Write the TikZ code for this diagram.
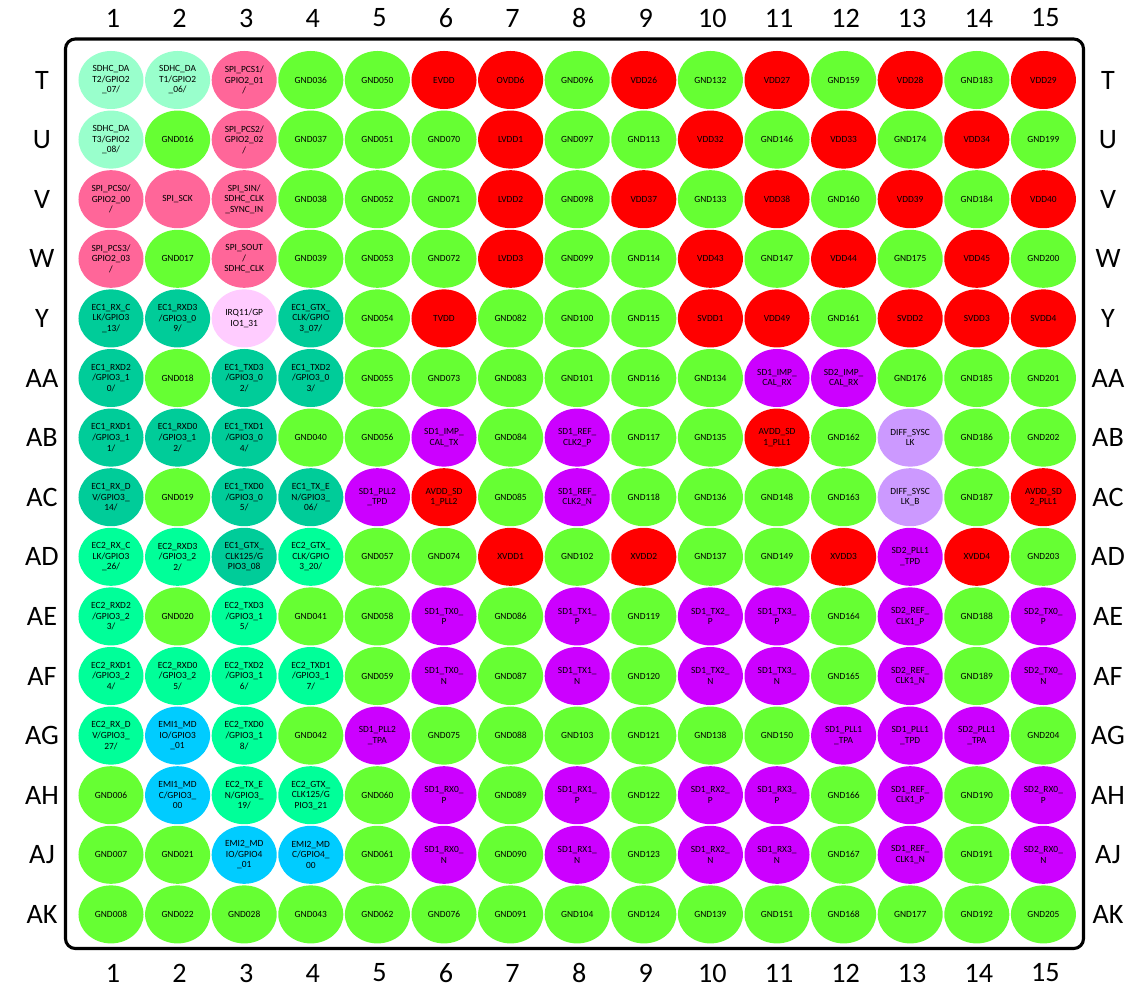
\documentclass[tikz,border=0pt]{standalone}
\usepackage{fontspec}
\setmainfont{Carlito}
\usepackage{xcolor}
\usetikzlibrary{shapes.geometric}

\definecolor{gnd}{HTML}{66FF33}
\definecolor{pwr}{HTML}{FF0000}
\definecolor{spi}{HTML}{FF6699}
\definecolor{sdhc}{HTML}{99FFCC}
\definecolor{econe}{HTML}{00CC99}
\definecolor{ectwo}{HTML}{00FF99}
\definecolor{irq}{HTML}{FFCCFF}
\definecolor{serdes}{HTML}{CC00FF}
\definecolor{sysclk}{HTML}{CC99FF}
\definecolor{emi}{HTML}{00CCFF}

% one row of balls: row name, row index, list of colour/text
\newcommand{\ballrow}[3]{%
  \foreach \fc/\txt [count=\i] in {#3} {
    \node[padball=\fc] (#1-\i) at ({111+66.6*(\i-1)},{80+59.6*(#2-1)}) {\txt};
  }%
}

\begin{document}
\begin{tikzpicture}[
    x=0.025cm, y=-0.025cm,
    padball/.style={ellipse, fill=#1, draw=none, inner sep=0pt, minimum width=1.625cm, minimum height=1.45cm, align=center, font=\fontsize{6.7}{7.5}\selectfont},
    colnum/.style={font=\fontsize{20}{22}\selectfont, inner sep=0pt},
    rowname/.style={font=\fontsize{20}{22}\selectfont, inner sep=0pt},
]
\useasboundingbox (0,0) rectangle (1135,990);

% package outline
\draw[line width=2.2pt, rounded corners=7pt] (65.5,39) rectangle (1083.5,948.5);

% column numbers and row names
\foreach \n in {1,...,15} {
  \node[colnum] (top-\n) at ({113+66.6*(\n-1)},18) {\n};
  \node[colnum] (bot-\n) at ({113+66.6*(\n-1)},973) {\n};
}
\foreach \r [count=\j] in {T,U,V,W,Y,AA,AB,AC,AD,AE,AF,AG,AH,AJ,AK} {
  \node[rowname] (left-\r) at (42,{80+59.6*(\j-1)}) {\r};
  \node[rowname] (right-\r) at (1108,{80+59.6*(\j-1)}) {\r};
}

% balls
\ballrow{T}{1}{sdhc/{SDHC\_DA\\T2/GPIO2\\\_07/}, sdhc/{SDHC\_DA\\T1/GPIO2\\\_06/}, spi/{SPI\_PCS1/\\GPIO2\_01\\/}, gnd/GND036, gnd/GND050, pwr/EVDD, pwr/OVDD6, gnd/GND096, pwr/VDD26, gnd/GND132, pwr/VDD27, gnd/GND159, pwr/VDD28, gnd/GND183, pwr/VDD29}
\ballrow{U}{2}{sdhc/{SDHC\_DA\\T3/GPIO2\\\_08/}, gnd/GND016, spi/{SPI\_PCS2/\\GPIO2\_02\\/}, gnd/GND037, gnd/GND051, gnd/GND070, pwr/LVDD1, gnd/GND097, gnd/GND113, pwr/VDD32, gnd/GND146, pwr/VDD33, gnd/GND174, pwr/VDD34, gnd/GND199}
\ballrow{V}{3}{spi/{SPI\_PCS0/\\GPIO2\_00\\/}, spi/{SPI\_SCK}, spi/{SPI\_SIN/\\SDHC\_CLK\\\_SYNC\_IN}, gnd/GND038, gnd/GND052, gnd/GND071, pwr/LVDD2, gnd/GND098, pwr/VDD37, gnd/GND133, pwr/VDD38, gnd/GND160, pwr/VDD39, gnd/GND184, pwr/VDD40}
\ballrow{W}{4}{spi/{SPI\_PCS3/\\GPIO2\_03\\/}, gnd/GND017, spi/{SPI\_SOUT\\/\\SDHC\_CLK}, gnd/GND039, gnd/GND053, gnd/GND072, pwr/LVDD3, gnd/GND099, gnd/GND114, pwr/VDD43, gnd/GND147, pwr/VDD44, gnd/GND175, pwr/VDD45, gnd/GND200}
\ballrow{Y}{5}{econe/{EC1\_RX\_C\\LK/GPIO3\\\_13/}, econe/{EC1\_RXD3\\/GPIO3\_0\\9/}, irq/{IRQ11/GP\\IO1\_31}, econe/{EC1\_GTX\_\\CLK/GPIO\\3\_07/}, gnd/GND054, pwr/TVDD, gnd/GND082, gnd/GND100, gnd/GND115, pwr/SVDD1, pwr/VDD49, gnd/GND161, pwr/SVDD2, pwr/SVDD3, pwr/SVDD4}
\ballrow{AA}{6}{econe/{EC1\_RXD2\\/GPIO3\_1\\0/}, gnd/GND018, econe/{EC1\_TXD3\\/GPIO3\_0\\2/}, econe/{EC1\_TXD2\\/GPIO3\_0\\3/}, gnd/GND055, gnd/GND073, gnd/GND083, gnd/GND101, gnd/GND116, gnd/GND134, serdes/{SD1\_IMP\_\\CAL\_RX}, serdes/{SD2\_IMP\_\\CAL\_RX}, gnd/GND176, gnd/GND185, gnd/GND201}
\ballrow{AB}{7}{econe/{EC1\_RXD1\\/GPIO3\_1\\1/}, econe/{EC1\_RXD0\\/GPIO3\_1\\2/}, econe/{EC1\_TXD1\\/GPIO3\_0\\4/}, gnd/GND040, gnd/GND056, serdes/{SD1\_IMP\_\\CAL\_TX}, gnd/GND084, serdes/{SD1\_REF\_\\CLK2\_P}, gnd/GND117, gnd/GND135, pwr/{AVDD\_SD\\1\_PLL1}, gnd/GND162, sysclk/{DIFF\_SYSC\\LK}, gnd/GND186, gnd/GND202}
\ballrow{AC}{8}{econe/{EC1\_RX\_D\\V/GPIO3\_\\14/}, gnd/GND019, econe/{EC1\_TXD0\\/GPIO3\_0\\5/}, econe/{EC1\_TX\_E\\N/GPIO3\_\\06/}, serdes/{SD1\_PLL2\\\_TPD}, pwr/{AVDD\_SD\\1\_PLL2}, gnd/GND085, serdes/{SD1\_REF\_\\CLK2\_N}, gnd/GND118, gnd/GND136, gnd/GND148, gnd/GND163, sysclk/{DIFF\_SYSC\\LK\_B}, gnd/GND187, pwr/{AVDD\_SD\\2\_PLL1}}
\ballrow{AD}{9}{ectwo/{EC2\_RX\_C\\LK/GPIO3\\\_26/}, ectwo/{EC2\_RXD3\\/GPIO3\_2\\2/}, econe/{EC1\_GTX\_\\CLK125/G\\PIO3\_08}, ectwo/{EC2\_GTX\_\\CLK/GPIO\\3\_20/}, gnd/GND057, gnd/GND074, pwr/XVDD1, gnd/GND102, pwr/XVDD2, gnd/GND137, gnd/GND149, pwr/XVDD3, serdes/{SD2\_PLL1\\\_TPD}, pwr/XVDD4, gnd/GND203}
\ballrow{AE}{10}{ectwo/{EC2\_RXD2\\/GPIO3\_2\\3/}, gnd/GND020, ectwo/{EC2\_TXD3\\/GPIO3\_1\\5/}, gnd/GND041, gnd/GND058, serdes/{SD1\_TX0\_\\P}, gnd/GND086, serdes/{SD1\_TX1\_\\P}, gnd/GND119, serdes/{SD1\_TX2\_\\P}, serdes/{SD1\_TX3\_\\P}, gnd/GND164, serdes/{SD2\_REF\_\\CLK1\_P}, gnd/GND188, serdes/{SD2\_TX0\_\\P}}
\ballrow{AF}{11}{ectwo/{EC2\_RXD1\\/GPIO3\_2\\4/}, ectwo/{EC2\_RXD0\\/GPIO3\_2\\5/}, ectwo/{EC2\_TXD2\\/GPIO3\_1\\6/}, ectwo/{EC2\_TXD1\\/GPIO3\_1\\7/}, gnd/GND059, serdes/{SD1\_TX0\_\\N}, gnd/GND087, serdes/{SD1\_TX1\_\\N}, gnd/GND120, serdes/{SD1\_TX2\_\\N}, serdes/{SD1\_TX3\_\\N}, gnd/GND165, serdes/{SD2\_REF\_\\CLK1\_N}, gnd/GND189, serdes/{SD2\_TX0\_\\N}}
\ballrow{AG}{12}{ectwo/{EC2\_RX\_D\\V/GPIO3\_\\27/}, emi/{EMI1\_MD\\IO/GPIO3\\\_01}, ectwo/{EC2\_TXD0\\/GPIO3\_1\\8/}, gnd/GND042, serdes/{SD1\_PLL2\\\_TPA}, gnd/GND075, gnd/GND088, gnd/GND103, gnd/GND121, gnd/GND138, gnd/GND150, serdes/{SD1\_PLL1\\\_TPA}, serdes/{SD1\_PLL1\\\_TPD}, serdes/{SD2\_PLL1\\\_TPA}, gnd/GND204}
\ballrow{AH}{13}{gnd/GND006, emi/{EMI1\_MD\\C/GPIO3\_\\00}, ectwo/{EC2\_TX\_E\\N/GPIO3\_\\19/}, ectwo/{EC2\_GTX\_\\CLK125/G\\PIO3\_21}, gnd/GND060, serdes/{SD1\_RX0\_\\P}, gnd/GND089, serdes/{SD1\_RX1\_\\P}, gnd/GND122, serdes/{SD1\_RX2\_\\P}, serdes/{SD1\_RX3\_\\P}, gnd/GND166, serdes/{SD1\_REF\_\\CLK1\_P}, gnd/GND190, serdes/{SD2\_RX0\_\\P}}
\ballrow{AJ}{14}{gnd/GND007, gnd/GND021, emi/{EMI2\_MD\\IO/GPIO4\\\_01}, emi/{EMI2\_MD\\C/GPIO4\_\\00}, gnd/GND061, serdes/{SD1\_RX0\_\\N}, gnd/GND090, serdes/{SD1\_RX1\_\\N}, gnd/GND123, serdes/{SD1\_RX2\_\\N}, serdes/{SD1\_RX3\_\\N}, gnd/GND167, serdes/{SD1\_REF\_\\CLK1\_N}, gnd/GND191, serdes/{SD2\_RX0\_\\N}}
\ballrow{AK}{15}{gnd/GND008, gnd/GND022, gnd/GND028, gnd/GND043, gnd/GND062, gnd/GND076, gnd/GND091, gnd/GND104, gnd/GND124, gnd/GND139, gnd/GND151, gnd/GND168, gnd/GND177, gnd/GND192, gnd/GND205}
\end{tikzpicture}
\end{document}
